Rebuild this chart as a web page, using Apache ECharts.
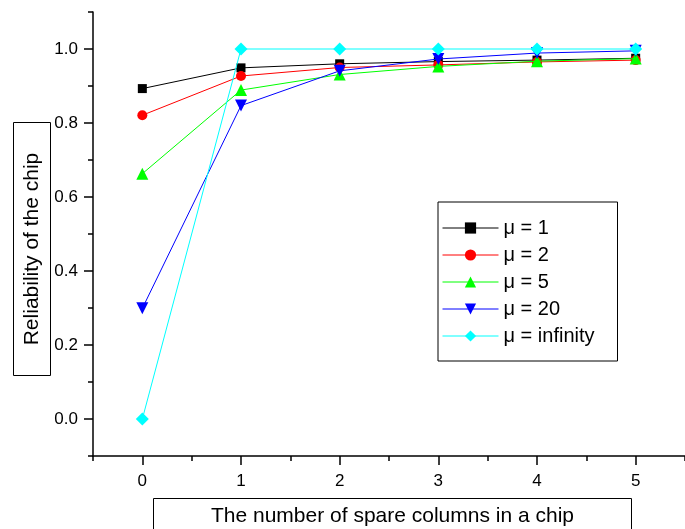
<!DOCTYPE html>
<html>
<head>
<meta charset="utf-8">
<script src="https://cdn.jsdelivr.net/npm/echarts@6/dist/echarts.min.js"></script>
<style>
  html, body { margin: 0; padding: 0; background: #fff; }
  #chart { width: 685px; height: 529px; }
</style>
</head>
<body>
<div id="chart"></div>
<script>
// Number of spare columns per chip
const spareColumns = [0, 1, 2, 3, 4, 5];

// Chip reliability for each mu value
const seriesNames = ['\u03bc = 1', '\u03bc = 2', '\u03bc = 5', '\u03bc = 20', '\u03bc = infinity'];
const mu1 = [0.893, 0.949, 0.960, 0.966, 0.970, 0.975];
const mu2 = [0.821, 0.927, 0.950, 0.957, 0.965, 0.970];
const mu5 = [0.663, 0.889, 0.931, 0.953, 0.967, 0.974];
const mu20 = [0.299, 0.847, 0.941, 0.973, 0.989, 0.995];
const muInf = [0.0, 1.0, 1.0, 1.0, 1.0, 1.0];

// Tick positions
const xMajorTicks = [0, 1, 2, 3, 4, 5];
const xMinorTicks = [-0.5, 0.5, 1.5, 2.5, 3.5, 4.5, 5.5];
const yMajorTicks = [0.0, 0.2, 0.4, 0.6, 0.8, 1.0];
const yMinorTicks = [-0.1, 0.1, 0.3, 0.5, 0.7, 0.9, 1.1];

const FONT = '"Liberation Sans", Arial, sans-serif';

const chart = echarts.init(document.getElementById('chart'), null, { renderer: 'canvas' });

function pair(values) {
  return spareColumns.map((x, i) => [x, values[i]]);
}

const styles = [
  { data: mu1, color: '#000000', symbol: 'rect', size: 9, rotate: 0 },
  { data: mu2, color: '#ff0000', symbol: 'circle', size: 10, rotate: 0 },
  { data: mu5, color: '#00ff00', symbol: 'triangle', size: 12, rotate: 0 },
  { data: mu20, color: '#0000ff', symbol: 'triangle', size: 12, rotate: 180 },
  { data: muInf, color: '#00ffff', symbol: 'diamond', size: 13, rotate: 0 }
];

const axisLineStyle = { color: '#000', width: 1.5 };

const option = {
  animation: false,
  backgroundColor: '#ffffff',
  grid: { left: 93, top: 12, width: 600, height: 444 },
  xAxis: [
    {
      type: 'value', min: -0.5, max: 5.5, position: 'bottom',
      axisLine: { show: true, onZero: false, lineStyle: axisLineStyle },
      axisTick: { show: true, customValues: xMajorTicks, length: 9, lineStyle: axisLineStyle },
      axisLabel: { show: true, customValues: xMajorTicks, margin: 17, color: '#000', fontSize: 17, fontFamily: FONT },
      splitLine: { show: false }
    },
    {
      type: 'value', min: -0.5, max: 5.5, position: 'bottom',
      axisLine: { show: false, onZero: false },
      axisTick: { show: true, customValues: xMinorTicks, length: 5, lineStyle: axisLineStyle },
      axisLabel: { show: false },
      splitLine: { show: false }
    }
  ],
  yAxis: [
    {
      type: 'value', min: -0.1, max: 1.1, position: 'left',
      axisLine: { show: true, onZero: false, lineStyle: axisLineStyle },
      axisTick: { show: true, customValues: yMajorTicks, length: 9, lineStyle: axisLineStyle },
      axisLabel: {
        show: true, customValues: yMajorTicks, margin: 15, color: '#000', fontSize: 17, fontFamily: FONT,
        formatter: v => v.toFixed(1)
      },
      splitLine: { show: false }
    },
    {
      type: 'value', min: -0.1, max: 1.1, position: 'left',
      axisLine: { show: false, onZero: false },
      axisTick: { show: true, customValues: yMinorTicks, length: 5, lineStyle: axisLineStyle },
      axisLabel: { show: false },
      splitLine: { show: false }
    }
  ],
  legend: {
    data: seriesNames,
    orient: 'vertical',
    left: 438, top: 202,
    padding: [16, 23, 15, 4],
    itemWidth: 56, itemHeight: 14, itemGap: 7,
    backgroundColor: '#ffffff',
    borderColor: '#000000', borderWidth: 1,
    lineStyle: { width: 1 },
    textStyle: { color: '#000', fontSize: 20, lineHeight: 20, fontFamily: FONT },
    itemStyle: { borderWidth: 0 }
  },
  series: styles.map((s, i) => ({
    name: seriesNames[i],
    type: 'line',
    data: pair(s.data),
    symbol: s.symbol,
    symbolSize: s.size,
    symbolRotate: s.rotate,
    showSymbol: true,
    lineStyle: { color: s.color, width: 1 },
    itemStyle: { color: s.color, borderWidth: 0 },
    emphasis: { disabled: true },
    z: 2 + i
  })),
  graphic: [
    {
      type: 'group', left: 13, top: 122,
      children: [
        { type: 'rect', shape: { x: 0, y: 0, width: 37, height: 253 }, style: { fill: '#fff', stroke: '#000', lineWidth: 1 } },
        {
          type: 'text', x: 19, y: 126.5, rotation: Math.PI / 2,
          style: { text: 'Reliability of the chip', fill: '#000', font: '21px ' + FONT, align: 'center', verticalAlign: 'middle' }
        }
      ]
    },
    {
      type: 'group', left: 153, top: 498,
      children: [
        { type: 'rect', shape: { x: 0, y: 0, width: 478, height: 40 }, style: { fill: '#fff', stroke: '#000', lineWidth: 1 } },
        {
          type: 'text', x: 239, y: 18,
          style: { text: 'The number of spare columns in a chip', fill: '#000', font: '21px ' + FONT, align: 'center', verticalAlign: 'middle' }
        }
      ]
    }
  ]
};

chart.setOption(option);
</script>
</body>
</html>
